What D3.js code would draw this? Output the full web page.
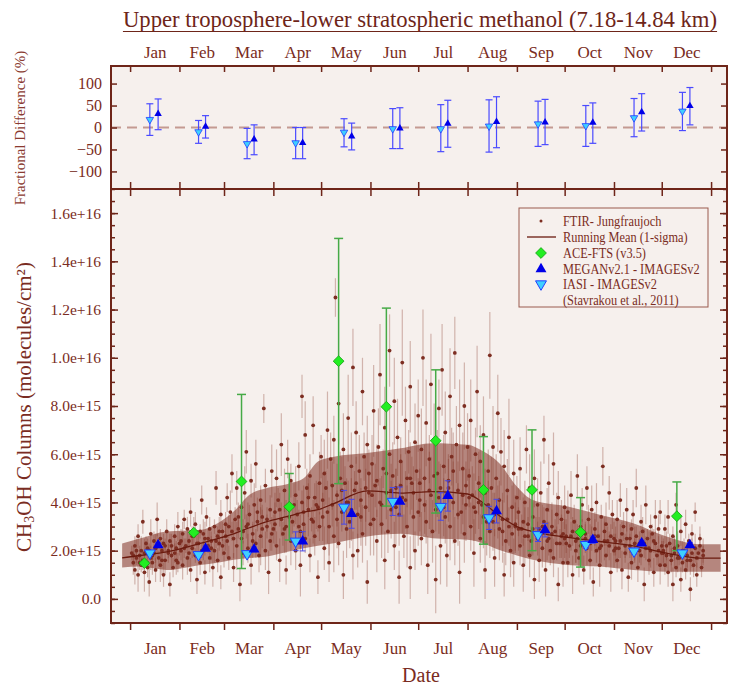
<!DOCTYPE html>
<html>
<head>
<meta charset="utf-8">
<script src="https://cdn.jsdelivr.net/npm/d3@7"></script>
<style>
body{margin:0;background:#fff;}
text{font-family:"Liberation Serif","Times New Roman",serif;}
</style>
</head>
<body>
<div id="chart"></div>
<script>
//Month boundaries (day of year) and labels
var monthStart=[0,31,59,90,120,151,181,212,243,273,304,334,365];
var monthNames=["Jan","Feb","Mar","Apr","May","Jun","Jul","Aug","Sep","Oct","Nov","Dec"];

//Top panel: fractional difference (%) vs FTIR
var fdIasiDay=[12.4,43,73.5,104,134.4,165,195.2,225.5,256.3,286.3,316.6,347];
var fdIasi=[18,-10,-37,-35,-11,-3,-3,3,8,4,22,37];
var fdIasiLo=[-18,-36,-71,-71,-44,-48,-55,-56,-43,-43,-21,-7];
var fdIasiHi=[54,16,-2,0,20,43,52,63,60,50,66,80];
var fdMeganDay=[17.6,47.4,77.9,108.4,139.2,169.5,199.6,230.2,260.7,290.7,321.4,351.7];
var fdMegan=[31,2,-27,-35,-20,-2,9,13,12,11,35,49];
var fdMeganLo=[-5,-24,-62,-71,-51,-48,-45,-46,-39,-36,-8,6];
var fdMeganHi=[65,27,6,0,10,45,62,70,64,56,77,91];

//Bottom panel, units of 1e15 molecules/cm2
var iasiVal=[1.9,1.83,1.87,2.39,3.8,4.04,3.83,3.36,2.66,2.25,1.98,1.9];
var iasiErr=[0.1,0.1,0.1,0.39,0.7,0.58,0.57,0.48,0.28,0.15,0.12,0.1];
var meganVal=[2.23,2.09,2.05,2.39,3.53,4.04,4.27,3.64,2.85,2.45,2.31,2.23];
var meganErr=[0.1,0.1,0.1,0.4,0.6,0.6,0.63,0.49,0.28,0.15,0.12,0.1];

var aceDay=[9,40,70,100,131,161,192,222,252.5,283,343.5];
var aceVal=[1.48,2.75,4.87,3.82,9.86,7.97,6.56,4.52,4.52,2.77,3.43];
var aceLo=[1.42,2.68,1.26,2.44,4.78,3.85,3.56,2.27,2.0,1.32,2.0];
var aceHi=[1.54,2.82,8.48,5.2,14.95,12.06,9.5,6.73,7.01,4.2,4.85];

//Running mean and 1-sigma envelope
var meanDay=[-5,6,23,44,55,65,75,86,99,109,118,128,149,170,190,212,222,232,243,253,275,295,316,337,358,371];
var meanVal=[1.7,1.8,1.95,2.3,2.5,2.7,2.95,3.2,3.42,3.6,3.7,3.95,4.48,4.39,4.45,4.35,3.97,3.45,3.0,2.79,2.55,2.38,2.2,1.9,1.69,1.69];
var meanHi=[2.3,2.5,2.8,2.86,3.14,3.62,4.32,4.6,4.77,5.0,5.7,5.9,6.05,6.25,6.46,6.39,6.11,5.63,4.66,4.1,3.83,3.49,3.14,2.59,2.27,2.27];
var meanLo=[1.3,1.34,1.2,1.41,1.5,1.62,1.7,1.76,1.95,2.1,2.2,2.31,2.59,2.7,2.52,2.45,2.3,2.03,1.8,1.62,1.41,1.34,1.2,1.13,1.13,1.13];

//FTIR Jungfraujoch individual columns: [day, value, half error]
var ftir=[
[1,1.9,0.3],[2,1.5,0.5],[3,2.2,0.4],[3,1.2,0.6],[4,1.7,0.3],[5,2.6,0.5],[5,1.0,0.7],[6,1.8,0.4],[7,1.4,0.3],[7,2.0,0.6],
[8,3.2,0.5],[8,1.6,0.4],[9,1.1,0.8],[10,2.3,0.3],[10,1.9,0.5],[11,1.3,0.4],[12,0.7,0.6],[12,2.0,0.3],[13,2.7,0.6],[14,1.5,0.5],
[14,1.8,0.2],[15,2.4,0.4],[16,1.2,0.5],[16,2.1,0.6],[17,3.3,0.7],[18,1.7,0.3],[19,2.5,0.4],[19,1.4,0.7],[20,2.0,0.4],[21,1.0,0.5],
[22,2.2,0.3],[22,1.6,0.6],[23,2.8,0.5],[24,1.9,0.4],[25,0.6,0.5],[25,2.4,0.3],[26,1.8,0.6],[27,1.3,0.4],[28,2.6,0.5],[29,2.1,0.3],
[30,1.5,0.4],[30,3.0,0.6],
[2,1.8,0.4],[4,2.0,0.5],[6,1.5,0.3],[9,1.9,0.6],[11,2.1,0.4],[13,1.7,0.5],[15,1.9,0.3],[17,2.2,0.5],[20,1.6,0.6],[21,2.3,0.4],
[24,2.0,0.3],[26,2.2,0.5],[28,1.9,0.4],[29,1.6,0.6],[31,2.3,0.5],
[32,2.0,0.4],[33,2.7,0.5],[33,1.4,0.6],[34,3.3,0.4],[35,2.2,0.3],[36,1.7,0.7],[36,2.9,0.5],[37,2.4,0.3],[38,1.2,0.5],[38,3.6,0.6],
[39,2.1,0.4],[40,2.6,0.8],[41,1.8,0.3],[41,3.1,0.5],[42,0.8,0.6],[43,2.3,0.4],[44,2.8,0.3],[44,1.5,0.5],[45,4.1,0.6],[46,2.0,0.4],
[47,2.5,0.7],[47,1.1,0.5],[48,3.4,0.4],[49,2.2,0.3],[50,1.7,0.6],[50,2.9,0.5],[51,2.4,0.4],[52,1.3,0.8],[53,3.0,0.3],[53,2.0,0.5],
[54,4.6,0.7],[55,2.6,0.4],[55,1.6,0.5],[56,2.3,0.3],[57,3.5,0.6],[57,0.9,0.5],[58,2.8,0.4],[59,1.9,0.6],
[32,2.4,0.5],[34,2.1,0.4],[37,1.9,0.6],[39,2.6,0.4],[42,2.3,0.5],[45,2.0,0.3],[46,2.7,0.6],[49,2.5,0.4],[51,2.1,0.5],[54,2.4,0.3],
[56,2.8,0.6],[58,2.2,0.4],
[60,3.1,0.5],[61,2.4,0.7],[61,4.2,0.6],[62,1.7,0.5],[63,3.6,0.9],[64,2.8,0.4],[64,5.2,0.8],[65,1.3,0.6],[66,3.3,0.5],[67,2.2,1.0],
[67,4.6,0.7],[68,2.9,0.4],[69,0.6,0.7],[70,3.8,0.6],[70,2.5,0.8],[71,1.9,0.5],[72,4.4,1.1],[73,3.0,0.5],[73,6.1,0.9],[74,2.1,0.6],
[75,3.5,0.4],[76,1.4,0.8],[76,4.9,0.7],[77,2.7,0.5],[78,3.9,0.9],[79,2.3,0.6],[79,5.6,1.0],[80,3.2,0.4],[81,1.8,0.7],[82,4.1,0.6],
[82,2.6,1.2],[83,3.4,0.5],[84,7.9,0.6],[85,2.0,0.8],[85,4.7,0.7],[86,3.0,0.5],[87,1.1,0.9],[88,3.7,0.6],[88,2.4,0.4],[89,5.3,1.1],
[90,2.9,0.6],
[60,2.6,0.6],[62,3.0,0.5],[65,2.5,0.8],[68,3.4,0.6],[71,2.8,0.5],[74,3.1,0.9],[77,2.4,0.7],[80,3.6,0.6],[83,2.9,0.8],[86,3.3,0.5],
[89,2.7,0.7],
[91,3.6,0.8],[92,2.2,0.6],[92,5.0,1.2],[93,4.1,0.5],[94,1.6,0.9],[95,3.3,0.7],[95,6.4,1.3],[96,2.7,0.5],[97,4.5,0.9],[98,3.0,1.1],
[98,1.2,0.6],[99,5.8,0.8],[100,3.8,0.6],[101,2.4,1.0],[101,4.9,0.7],[102,3.2,0.5],[108,8.4,0.9],[104,2.0,0.8],[104,4.3,1.2],[105,3.5,0.6],
[106,5.5,1.0],[107,2.8,0.7],[107,1.4,1.3],[108,4.0,0.5],[109,3.1,0.9],[110,6.8,1.4],[110,2.5,0.6],[111,4.6,0.8],[112,3.7,1.1],[113,1.8,0.7],
[113,5.1,0.9],[114,3.3,0.5],[115,7.2,1.2],[116,2.6,0.8],[116,4.2,0.6],[117,3.9,1.0],[118,0.9,0.7],[119,4.8,1.3],[119,3.0,0.6],[120,5.9,0.9],
[91,3.1,0.9],[94,3.7,0.7],[97,2.9,1.0],[100,3.4,0.8],[103,3.9,0.9],[106,3.0,0.7],[109,3.6,1.1],[112,4.2,0.8],[115,3.2,0.9],[118,3.8,1.0],
[121,3.4,1.0],[122,5.2,1.4],[122,2.1,0.9],[123,4.6,0.7],[124,7.0,1.6],[125,3.0,1.2],[125,1.5,0.8],[126,5.8,1.1],[127,3.9,0.9],[128,2.6,1.5],
[128,6.6,1.0],[129,12.5,0.8],[130,4.3,1.3],[131,2.3,0.9],[131,8.1,1.7],[132,5.0,1.1],[133,3.6,0.8],[134,1.0,1.0],[134,6.2,1.5],[135,4.8,0.7],
[136,2.9,1.2],[137,7.5,1.8],[137,4.0,0.9],[138,3.2,1.1],[139,5.5,1.4],[140,1.8,1.0],[140,9.6,1.6],[141,4.5,0.8],[142,6.9,1.3],[143,3.5,1.0],
[143,2.0,0.7],[144,5.3,1.5],[145,4.1,0.9],[146,8.6,1.4],[146,2.7,1.2],[147,5.9,1.0],[148,3.8,1.6],[149,0.7,0.9],[149,6.4,1.2],[150,4.4,0.8],
[151,3.1,1.3],
[121,4.1,1.1],[124,3.6,1.3],[127,4.7,1.0],[130,3.3,1.2],[133,4.5,1.4],[136,4.0,1.0],[139,3.7,1.3],[142,4.8,1.1],[145,3.4,1.2],[148,4.6,1.4],
[150,5.2,1.0],
[152,5.6,1.2],[153,3.3,1.5],[153,7.8,1.9],[154,4.7,0.9],[155,2.4,1.3],[156,6.3,1.6],[157,4.0,1.0],[157,9.3,2.1],[158,3.1,1.4],[159,5.4,0.8],
[160,1.6,1.2],[160,7.1,1.7],[161,4.4,1.1],[162,2.8,0.9],[163,6.0,2.0],[163,10.3,1.5],[164,3.7,1.2],[165,5.1,1.4],[166,8.2,1.8],[166,2.2,1.0],
[167,4.6,0.8],[168,6.7,1.6],[169,3.5,1.3],[169,0.9,1.1],[170,5.7,1.0],[171,9.8,2.2],[171,4.2,1.5],[172,2.6,0.9],[173,7.4,1.4],[174,5.0,1.2],
[174,3.0,1.7],[175,6.1,0.9],[176,1.3,1.3],[176,8.8,1.9],[177,4.8,1.1],[178,3.4,1.4],[179,6.5,1.6],[179,2.0,0.8],[180,5.3,1.2],[181,7.6,1.5],
[152,4.3,1.3],[155,4.9,1.5],[158,3.9,1.2],[161,5.2,1.4],[164,4.5,1.1],[167,3.8,1.6],[170,4.7,1.3],[173,4.1,1.2],[176,5.0,1.5],[178,4.4,1.1],
[181,3.6,1.4],
[182,4.1,1.3],[183,6.2,1.7],[183,2.5,1.1],[184,10.0,2.0],[185,5.0,1.4],[186,3.2,0.9],[186,7.3,1.8],[187,1.4,1.2],[188,5.8,1.0],[189,4.3,1.6],
[189,8.9,2.1],[190,2.8,1.3],[191,6.6,1.5],[192,3.7,0.9],[192,0.8,1.4],[193,5.2,1.8],[194,7.9,1.2],[195,4.6,1.0],[195,2.2,1.6],[196,9.5,1.9],
[197,5.5,1.3],[198,3.4,1.1],[198,6.9,1.7],[199,1.8,1.3],[200,4.9,0.9],[201,8.4,2.0],[201,3.0,1.4],[202,5.9,1.2],[203,4.0,1.7],[204,10.2,1.5],
[204,2.4,1.0],[205,6.4,1.6],[206,4.5,1.2],[207,7.2,1.9],[207,1.1,1.3],[208,3.6,0.9],[209,5.4,1.5],[210,8.0,1.8],[210,2.7,1.2],[211,4.7,1.0],
[212,6.3,1.4],
[182,4.8,1.4],[185,3.9,1.2],[188,4.5,1.6],[191,5.1,1.3],[194,4.2,1.5],[197,3.8,1.2],[200,4.6,1.4],[203,5.3,1.6],[206,3.5,1.3],[209,4.3,1.2],
[211,3.9,1.5],
[213,5.1,1.3],[214,3.0,1.0],[214,7.4,1.7],[215,4.3,1.2],[216,1.9,1.4],[217,6.0,1.1],[217,3.6,0.9],[218,8.6,1.9],[219,4.8,1.3],[220,2.5,1.0],
[220,5.7,1.5],[221,3.9,0.8],[222,6.8,1.6],[223,1.2,1.2],[223,4.4,1.0],[224,3.2,1.4],[225,5.3,0.9],[226,10.1,1.8],[226,2.8,1.1],[227,4.6,1.3],
[228,6.3,1.7],[229,3.5,0.9],[229,1.7,1.2],[230,5.0,1.0],[231,7.7,1.6],[232,2.9,1.3],[232,4.1,0.8],[233,6.1,1.4],[234,3.3,1.1],[235,1.0,0.9],
[235,5.5,1.5],[236,2.4,1.0],[237,4.5,1.3],[238,3.0,0.8],[238,6.7,1.6],[239,2.0,1.1],[240,3.8,0.9],[241,5.2,1.4],[241,1.5,1.0],[242,3.1,1.2],
[243,4.2,0.9],
[213,4.2,1.2],[216,3.8,1.4],[219,4.0,1.1],[222,3.4,1.3],[225,3.9,1.0],[228,3.2,1.2],[231,3.6,1.1],[234,2.8,1.3],[237,3.3,1.0],[240,2.7,1.2],
[242,3.0,1.0],
[244,3.6,1.0],[245,2.2,0.8],[245,5.4,1.3],[246,2.9,0.6],[247,1.4,1.1],[248,4.0,0.9],[248,2.6,1.2],[249,6.2,1.0],[250,3.1,0.7],[251,1.8,0.9],
[251,4.6,1.4],[252,2.4,0.6],[253,3.4,1.0],[254,0.8,0.8],[254,5.0,1.2],[255,2.7,0.7],[256,3.9,1.1],[257,1.6,0.9],[257,2.9,0.5],[258,4.4,1.3],
[259,2.1,0.8],[260,6.6,1.0],[260,3.2,0.6],[261,1.2,1.1],[262,3.7,0.9],[263,2.5,0.7],[263,4.8,1.2],[264,2.0,0.6],[265,3.0,1.0],[266,5.6,1.3],
[266,1.7,0.8],[267,2.8,0.5],[268,3.5,0.9],[269,0.6,0.7],[269,4.2,1.1],[270,2.3,0.6],[271,3.3,0.8],[272,1.5,1.0],[272,2.7,0.5],[273,3.8,0.9],
[244,2.9,0.9],[247,3.2,1.0],[250,2.6,0.8],[253,2.9,1.1],[256,2.5,0.7],[259,3.0,0.9],[262,2.4,0.8],[265,2.7,1.0],[268,2.3,0.7],[271,2.6,0.9],
[273,2.5,0.8],
[274,2.6,0.7],[275,3.6,0.9],[275,1.5,0.6],[276,2.2,0.5],[277,4.3,1.0],[278,2.8,0.6],[278,1.0,0.8],[279,3.2,0.7],[280,2.0,0.5],[281,5.1,0.9],
[281,2.5,0.6],[282,1.7,0.8],[283,3.0,0.5],[284,2.3,1.0],[284,3.9,0.7],[285,1.2,0.6],[286,2.7,0.5],[287,4.6,0.9],[287,2.1,0.7],[288,3.3,0.6],
[289,1.6,0.8],[290,2.5,0.5],[290,3.7,1.0],[291,0.7,0.6],[292,2.9,0.7],[293,2.0,0.5],[293,4.0,0.8],[294,2.6,0.6],[295,1.4,0.9],[296,3.4,0.5],
[296,2.2,0.7],[297,5.5,0.8],[298,2.8,0.6],[299,1.8,0.5],[299,3.1,0.9],[300,2.4,0.6],[301,4.4,0.7],[302,1.1,0.8],[302,2.6,0.5],[303,3.5,0.6],
[304,2.0,0.7],
[274,2.3,0.8],[277,2.6,0.6],[280,2.4,0.9],[283,2.2,0.7],[286,2.5,0.6],[289,2.3,0.8],[292,2.6,0.7],[295,2.1,0.6],[298,2.4,0.8],[301,2.2,0.6],
[304,2.5,0.7],
[305,2.4,0.6],[306,3.3,0.8],[306,1.6,0.5],[307,2.1,0.4],[308,4.1,0.7],[309,2.7,0.5],[309,1.2,0.8],[310,3.0,0.6],[311,1.9,0.4],[312,2.5,0.7],
[312,3.7,0.9],[313,0.9,0.6],[314,2.2,0.5],[315,2.9,0.4],[315,1.5,0.7],[316,3.5,0.6],[317,2.0,0.5],[318,4.6,0.8],[318,2.6,0.4],[319,1.3,0.6],
[320,2.3,0.5],[321,3.2,0.7],[321,1.8,0.4],[322,2.8,0.6],[323,0.6,0.7],[324,2.1,0.5],[324,3.9,0.8],[325,2.5,0.4],[326,1.6,0.6],[327,3.0,0.5],
[327,2.0,0.7],[328,2.7,0.4],[329,1.1,0.6],[330,3.4,0.7],[330,2.3,0.5],[331,1.8,0.4],[332,2.9,0.6],[333,1.4,0.8],[333,3.6,0.5],[334,2.2,0.4],
[305,2.1,0.6],[308,2.4,0.7],[311,2.2,0.5],[314,2.5,0.6],[317,2.3,0.7],[320,2.0,0.5],[323,2.3,0.6],[326,2.1,0.7],[329,2.4,0.5],[332,2.0,0.6],
[334,1.9,0.5],
[335,2.0,0.5],[336,2.9,0.6],[336,1.4,0.4],[337,1.8,0.5],[338,3.4,0.7],[338,1.1,0.6],[339,2.3,0.4],[340,1.6,0.5],[341,0.6,0.7],[341,2.6,0.4],
[342,1.9,0.6],[343,3.9,0.5],[343,1.3,0.4],[344,2.2,0.6],[345,1.7,0.3],[346,0.8,0.5],[346,2.8,0.6],[347,1.5,0.4],[348,2.0,0.5],[349,3.1,0.6],
[349,1.2,0.4],[350,1.8,0.5],[351,2.4,0.3],[352,0.4,0.5],[352,1.6,0.6],[353,2.7,0.4],[354,1.4,0.5],[355,2.1,0.6],[355,3.6,0.4],[356,1.0,0.5],
[357,1.9,0.3],[358,2.5,0.5],[359,1.3,0.4],[360,2.0,0.5],
[335,1.9,0.5],[337,2.2,0.6],[340,1.8,0.4],[342,2.1,0.5],[344,1.7,0.6],[347,2.0,0.4],[350,1.6,0.5],[353,1.9,0.6],[356,1.7,0.4],[358,2.2,0.5],
[360,1.8,0.4]
];

var w=729,h=686;
var left=111,right=727,topY=66,midY=189,botY=623;
var ink="#6e2519",textCol="#7a2c22",plotBg="#f6f0ed";

var svg=d3.select("#chart").append("svg")
          .attr("width",w)
          .attr("height",h);

var x=d3.scaleLinear().domain([-12,375]).range([left,right]);
var yTop=d3.scaleLinear().domain([-140,140]).range([midY,topY]);
var yBot=d3.scaleLinear().domain([-1,17]).range([botY,midY]);

var monthMid=monthNames.map(function(m,i) {return (monthStart[i]+monthStart[i+1])/2;});

//Panel backgrounds
svg.append("rect").attr("x",left).attr("y",topY).attr("width",right-left).attr("height",botY-topY).attr("fill",plotBg);

svg.append("defs").append("clipPath").attr("id","clipBot")
   .append("rect").attr("x",left).attr("y",midY).attr("width",right-left).attr("height",botY-midY);

//Title with underline
var title=svg.append("text")
   .attr("x",420)
   .attr("y",27)
   .attr("text-anchor","middle")
   .attr("font-size",22.7)
   .attr("fill",ink)
   .text("Upper troposphere-lower stratospheric methanol (7.18-14.84 km)");
var tb=title.node().getBBox();
svg.append("line").attr("x1",tb.x).attr("x2",tb.x+tb.width).attr("y1",31.5).attr("y2",31.5)
   .attr("stroke",ink).attr("stroke-width",1.2);

//---------- Top panel ----------
var topG=svg.append("g");
topG.append("line")
    .attr("x1",left).attr("x2",right)
    .attr("y1",yTop(0)).attr("y2",yTop(0))
    .attr("stroke","#c49a92").attr("stroke-width",2).attr("stroke-dasharray","10,6");

function errBars(g,days,lo,hi,scale,color,cap,sw) {
    var eb=g.append("g").attr("stroke",color).attr("stroke-width",sw).attr("fill","none");
    days.forEach(function(d,i) {
        var cx=x(d);
        eb.append("line").attr("x1",cx).attr("x2",cx).attr("y1",scale(lo[i])).attr("y2",scale(hi[i]));
        eb.append("line").attr("x1",cx-cap).attr("x2",cx+cap).attr("y1",scale(lo[i])).attr("y2",scale(lo[i]));
        eb.append("line").attr("x1",cx-cap).attr("x2",cx+cap).attr("y1",scale(hi[i])).attr("y2",scale(hi[i]));
    });
}

errBars(topG,fdIasiDay,fdIasiLo,fdIasiHi,yTop,"#4a4aff",3.5,1.2);
errBars(topG,fdMeganDay,fdMeganLo,fdMeganHi,yTop,"#4a4aff",3.5,1.2);

var triSmall=d3.symbol().type(d3.symbolTriangle).size(24);
topG.selectAll(".fdi").data(fdIasi).enter().append("path")
    .attr("d",triSmall)
    .attr("transform",function(d,i) {return "translate("+x(fdIasiDay[i])+","+yTop(d)+") rotate(180)";})
    .attr("fill","#3fd0ff").attr("stroke","#2040ff").attr("stroke-width",0.8);
topG.selectAll(".fdm").data(fdMegan).enter().append("path")
    .attr("d",triSmall)
    .attr("transform",function(d,i) {return "translate("+x(fdMeganDay[i])+","+yTop(d)+")";})
    .attr("fill","#0000e8");

//---------- Bottom panel ----------
var botG=svg.append("g").attr("clip-path","url(#clipBot)");

//1-sigma envelope
var band=d3.area()
           .x(function(d,i) {return x(meanDay[i]);})
           .y0(function(d,i) {return yBot(meanLo[i]);})
           .y1(function(d,i) {return yBot(meanHi[i]);})
           .curve(d3.curveMonotoneX);
botG.append("path").datum(meanDay).attr("d",band).attr("fill","rgba(127,48,35,0.55)");

//FTIR error bars and points
botG.append("g").selectAll("line").data(ftir).enter().append("line")
    .attr("x1",function(d) {return x(d[0]);})
    .attr("x2",function(d) {return x(d[0]);})
    .attr("y1",function(d) {return yBot(d[1]-d[2]);})
    .attr("y2",function(d) {return yBot(d[1]+d[2]);})
    .attr("stroke","rgba(135,55,40,0.33)").attr("stroke-width",1.2);
botG.append("g").selectAll("circle").data(ftir).enter().append("circle")
    .attr("cx",function(d) {return x(d[0]);})
    .attr("cy",function(d) {return yBot(d[1]);})
    .attr("r",1.9)
    .attr("fill","#7d2e22");

//Running mean
var meanLine=d3.line()
               .x(function(d,i) {return x(meanDay[i]);})
               .y(function(d) {return yBot(d);})
               .curve(d3.curveMonotoneX);
botG.append("path").datum(meanVal).attr("d",meanLine)
    .attr("fill","none").attr("stroke","#6a1a0e").attr("stroke-width",1.3);

//ACE-FTS
errBars(botG,aceDay,aceLo,aceHi,yBot,"#46aa46",4.5,1.5);
var diamond=d3.symbol().type(d3.symbolSquare).size(58);
botG.selectAll(".ace").data(aceVal).enter().append("path")
    .attr("d",diamond)
    .attr("transform",function(d,i) {return "translate("+x(aceDay[i])+","+yBot(d)+") rotate(45)";})
    .attr("fill","#22ee22").attr("stroke","#15a015").attr("stroke-width",0.8);

//IASI and MEGAN
var iasiLo=iasiVal.map(function(d,i) {return d-iasiErr[i];});
var iasiHi=iasiVal.map(function(d,i) {return d+iasiErr[i];});
var meganLo=meganVal.map(function(d,i) {return d-meganErr[i];});
var meganHi=meganVal.map(function(d,i) {return d+meganErr[i];});
errBars(botG,fdIasiDay,iasiLo,iasiHi,yBot,"#4848e8",3,1);
errBars(botG,fdMeganDay,meganLo,meganHi,yBot,"#4848e8",3,1);

var tri=d3.symbol().type(d3.symbolTriangle).size(52);
botG.selectAll(".iasi").data(iasiVal).enter().append("path")
    .attr("d",tri)
    .attr("transform",function(d,i) {return "translate("+x(fdIasiDay[i])+","+yBot(d)+") rotate(180)";})
    .attr("fill","#3fd0ff").attr("stroke","#2040ff").attr("stroke-width",1);
botG.selectAll(".megan").data(meganVal).enter().append("path")
    .attr("d",tri)
    .attr("transform",function(d,i) {return "translate("+x(fdMeganDay[i])+","+yBot(d)+")";})
    .attr("fill","#0000e8");

//---------- Axes ----------
function styleAxis(g,size) {
    g.select(".domain").remove();
    g.selectAll("line").attr("stroke",ink).attr("stroke-width",1.5);
    g.selectAll("text").attr("fill",textCol).attr("font-size",size)
     .attr("font-family","'Liberation Serif','Times New Roman',serif");
}

//top panel y
svg.append("g").attr("transform","translate("+left+",0)")
   .call(d3.axisLeft(yTop).tickValues([-100,-50,0,50,100]).tickSize(-6).tickPadding(9))
   .call(function(g) {styleAxis(g,16);});
svg.append("g").attr("transform","translate("+right+",0)")
   .call(d3.axisRight(yTop).tickValues([-100,-50,0,50,100]).tickSize(-6).tickFormat(""))
   .call(function(g) {styleAxis(g,16);});

//bottom panel y
var yFmt=function(d) {return d===0?"0.0":(d*1e15).toExponential(1);};
svg.append("g").attr("transform","translate("+left+",0)")
   .call(d3.axisLeft(yBot).tickValues(d3.range(-1,17.01,0.5)).tickSize(-4).tickFormat(""))
   .call(function(g) {styleAxis(g,15);});
svg.append("g").attr("transform","translate("+left+",0)")
   .call(d3.axisLeft(yBot).tickValues(d3.range(0,16.01,2)).tickSize(-7).tickPadding(10).tickFormat(yFmt))
   .call(function(g) {styleAxis(g,15.5);});
svg.append("g").attr("transform","translate("+right+",0)")
   .call(d3.axisRight(yBot).tickValues(d3.range(-1,17.01,0.5)).tickSize(-4).tickFormat(""))
   .call(function(g) {styleAxis(g,15);});
svg.append("g").attr("transform","translate("+right+",0)")
   .call(d3.axisRight(yBot).tickValues(d3.range(0,16.01,2)).tickSize(-7).tickFormat(""))
   .call(function(g) {styleAxis(g,15);});

//x ticks at month boundaries
svg.append("g").attr("transform","translate(0,"+topY+")")
   .call(d3.axisTop(x).tickValues(monthStart).tickSize(-6).tickFormat(""))
   .call(function(g) {styleAxis(g,17);});
svg.append("g").attr("transform","translate(0,"+midY+")")
   .call(d3.axisBottom(x).tickValues(monthStart).tickSize(-7).tickFormat(""))
   .call(function(g) {styleAxis(g,17);});
svg.append("g").attr("transform","translate(0,"+midY+")")
   .call(d3.axisTop(x).tickValues(monthStart).tickSize(-7).tickFormat(""))
   .call(function(g) {styleAxis(g,17);});
svg.append("g").attr("transform","translate(0,"+botY+")")
   .call(d3.axisBottom(x).tickValues(monthStart).tickSize(7).tickFormat(""))
   .call(function(g) {styleAxis(g,17);});

//month labels
svg.append("g").attr("transform","translate(0,"+topY+")")
   .call(d3.axisTop(x).tickValues(monthMid).tickSize(0).tickPadding(8).tickFormat(function(d,i) {return monthNames[i];}))
   .call(function(g) {styleAxis(g,17);});
svg.append("g").attr("transform","translate(0,"+botY+")")
   .call(d3.axisBottom(x).tickValues(monthMid).tickSize(0).tickPadding(19).tickFormat(function(d,i) {return monthNames[i];}))
   .call(function(g) {styleAxis(g,17);});

//frames
svg.append("rect").attr("x",left).attr("y",topY).attr("width",right-left).attr("height",midY-topY)
   .attr("fill","none").attr("stroke",ink).attr("stroke-width",2);
svg.append("rect").attr("x",left).attr("y",midY).attr("width",right-left).attr("height",botY-midY)
   .attr("fill","none").attr("stroke",ink).attr("stroke-width",2);

//axis labels
svg.append("text")
   .attr("transform","translate(20,128) rotate(-90)")
   .attr("text-anchor","middle").attr("dominant-baseline","central")
   .attr("font-size",15).attr("fill","#8a3a30")
   .text("Fractional Difference (%)");

var yl=svg.append("text")
   .attr("transform","translate(24,407) rotate(-90)")
   .attr("text-anchor","middle").attr("dominant-baseline","central")
   .attr("font-size",21).attr("fill",textCol);
yl.append("tspan").text("CH");
yl.append("tspan").attr("font-size",14).attr("dy",5).text("3");
yl.append("tspan").attr("dy",-5).text("OH Columns (molecules/cm\u00B2)");

svg.append("text")
   .attr("x",421).attr("y",682)
   .attr("text-anchor","middle")
   .attr("font-size",20).attr("fill",textCol)
   .text("Date");

//---------- Legend ----------
var lg=svg.append("g");
lg.append("rect").attr("x",519).attr("y",208).attr("width",189).attr("height",99)
  .attr("fill",plotBg).attr("stroke","#9a5a4e").attr("stroke-width",1);
var legendText=["FTIR- Jungfraujoch","Running Mean (1-sigma)","ACE-FTS (v3.5)","MEGANv2.1 - IMAGESv2","IASI - IMAGESv2","(Stavrakou et al., 2011)"];
var legendY=[221,237,253,269,284,300];
lg.selectAll("text").data(legendText).enter().append("text")
  .attr("x",563).attr("y",function(d,i) {return legendY[i];})
  .attr("dominant-baseline","central")
  .attr("font-size",13).attr("fill",textCol)
  .attr("transform",function(d,i) {return "translate(563,"+legendY[i]+") scale(0.95,1.05) translate(-563,"+(-legendY[i])+")";})
  .text(function(d) {return d;});
lg.append("circle").attr("cx",541).attr("cy",legendY[0]).attr("r",1.5).attr("fill","#7d2e22");
lg.append("line").attr("x1",527).attr("x2",556).attr("y1",legendY[1]).attr("y2",legendY[1])
  .attr("stroke","#6a1a0e").attr("stroke-width",1.3);
lg.append("path").attr("d",diamond).attr("transform","translate(541,"+legendY[2]+") rotate(45)")
  .attr("fill","#22ee22").attr("stroke","#15a015").attr("stroke-width",0.8);
lg.append("path").attr("d",tri).attr("transform","translate(541,"+legendY[3]+")").attr("fill","#0000e8");
lg.append("path").attr("d",tri).attr("transform","translate(541,"+legendY[4]+") rotate(180)")
  .attr("fill","#3fd0ff").attr("stroke","#2040ff").attr("stroke-width",1);
</script>
</body>
</html>
